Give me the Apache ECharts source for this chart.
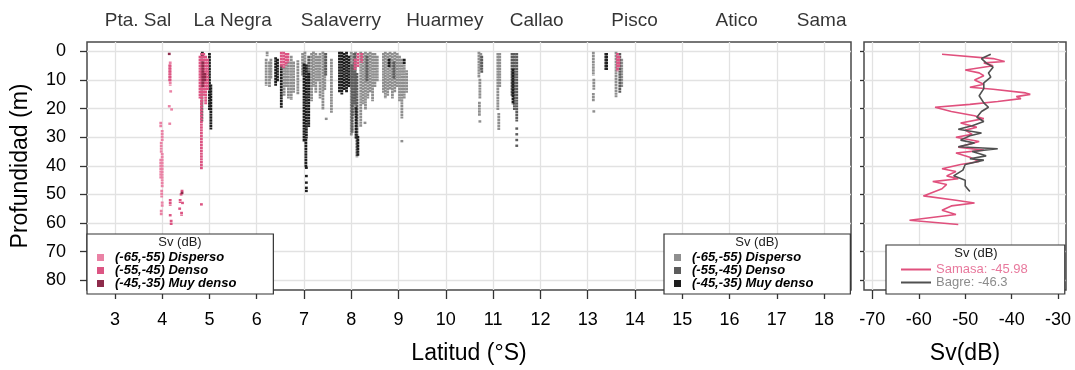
<!DOCTYPE html>
<html>
<head>
<meta charset="utf-8">
<script src="https://cdn.jsdelivr.net/npm/echarts@6/dist/echarts.min.js"></script>
<style>
html, body { margin: 0; background: #fff; }
#chart { width: 1075px; height: 370px; }
</style>
</head>
<body>
<div id="chart"></div>
<script>
// ticks
var latTicks = [3, 4, 5, 6, 7, 8, 9, 10, 11, 12, 13, 14, 15, 16, 17, 18];
var depthTicks = [0, 10, 20, 30, 40, 50, 60, 70, 80];
var svTicks = [-70, -60, -50, -40, -30];

// localidades arriba del panel
var sites = ['Pta. Sal', 'La Negra', 'Salaverry', 'Huarmey', 'Callao', 'Pisco', 'Atico', 'Sama'];
var siteLat = [3.49, 5.49, 7.78, 9.98, 11.92, 13.99, 16.15, 17.95];

// clases de Sv
var svClasses = ['(-65,-55) Disperso', '(-55,-45) Denso', '(-45,-35) Muy denso'];

// registros: [latitud, prof. superior, prof. inferior]
var samasaDisperso = [
  [3.97, 25, 26.2], [4.0, 27.9, 31], [3.98, 32, 35], [4.0, 36, 47], [3.97, 38, 44],
  [3.99, 48.8, 50.6], [4.0, 52.9, 54], [3.98, 55.8, 57],
  [4.17, 4, 11.5], [4.18, 14, 14], [4.15, 19.2, 19.2], [4.2, 20.3, 20.3], [4.16, 25.3, 25.3]
];
var samasaDenso = [
  [4.16, 5, 10], [4.17, 52, 53.5], [4.17, 57.3, 57.3], [4.19, 59.3, 60.4],
  [4.42, 48.8, 48.8], [4.4, 50, 50], [4.38, 52, 52.5], [4.43, 53, 53], [4.37, 55, 55], [4.41, 56.5, 57],
  [4.8, 2, 16], [4.84, 1, 17.5], [4.88, 1, 15], [4.92, 2, 18], [4.96, 3, 13],
  [4.83, 17.5, 40.7], [4.83, 53.5, 53.5],
  [6.52, 0.6, 5], [6.57, 0.6, 5.3], [6.62, 1, 4.5], [6.66, 1, 3.5],
  [8.08, 3, 6], [8.14, 1, 5], [8.22, 1, 3.5],
  [13.63, 1, 6.5], [13.66, 2, 5]
];
var samasaMuyDenso = [
  [4.15, 0.9, 0.9], [4.86, 4, 12], [4.9, 8, 10], [4.42, 49.5, 49.5]
];

var bagreDisperso = [
  [6.22, 0.5, 1.2], [6.2, 3, 11.5], [6.27, 4, 12], [6.3, 3, 9],
  [6.58, 6, 15], [6.62, 5, 12], [6.67, 4, 16], [6.73, 2, 16.5], [6.78, 4, 14], [6.87, 3.5, 14.5],
  [6.97, 1, 8], [7.02, 0.5, 6], [7.16, 1, 17], [7.2, 0.5, 12], [7.25, 1, 14], [7.3, 2, 10],
  [7.34, 1, 16], [7.4, 0.5, 20], [7.44, 1, 13], [7.58, 3, 21], [7.47, 23.6, 23.6],
  [8.0, 0.6, 29], [8.04, 1, 22], [8.09, 0.6, 20], [8.2, 0.6, 26], [8.25, 1, 18],
  [8.3, 0.6, 20], [8.35, 1, 16], [8.4, 0.6, 14], [8.45, 1, 17], [8.5, 1, 12], [8.55, 2, 10],
  [8.29, 25, 25],
  [8.68, 1, 14], [8.72, 0.6, 16], [8.77, 1, 15], [8.82, 0.6, 13], [8.87, 1, 16], [8.92, 0.6, 14],
  [8.97, 1, 12], [9.02, 2, 17], [9.07, 3, 23], [9.12, 5, 16], [9.17, 7, 14], [9.07, 31.4, 31.4],
  [10.7, 0.6, 8.7], [10.74, 1, 6], [10.72, 10, 16], [10.71, 18, 22], [10.72, 24.5, 24.5],
  [11.1, 1, 20], [11.14, 1, 12], [11.12, 22, 27],
  [13.12, 0.6, 8], [13.13, 10, 13], [13.12, 15, 17], [13.13, 21, 21],
  [13.6, 0.6, 15.6], [13.72, 3, 12]
];
var bagreDenso = [
  [4.84, 1, 24], [7.1, 2, 10], [7.46, 1, 8], [8.02, 5, 28], [8.12, 8, 36.5], [8.07, 1, 18],
  [8.33, 2, 10], [8.9, 4, 9], [10.76, 2, 7],
  [11.4, 1, 15], [11.45, 1, 20], [11.5, 1, 24], [11.5, 27, 27], [11.5, 29, 29], [11.5, 31, 31], [11.5, 33, 33],
  [13.38, 1, 6], [13.68, 1, 14]
];
var bagreMuyDenso = [
  [4.85, 0.6, 1.5], [5.0, 1, 20], [5.03, 12, 26.8],
  [6.4, 2.5, 11.7], [6.44, 3, 10], [6.52, 5.3, 19.2],
  [7.0, 4.7, 31], [7.05, 5, 30], [7.1, 8, 26], [7.04, 31, 40],
  [7.05, 40.7, 40.7], [7.05, 43.6, 43.6], [7.05, 45.9, 45.9], [7.05, 47.7, 47.7], [7.05, 48.8, 48.8],
  [7.75, 0.6, 14], [7.8, 0.6, 14.6], [7.85, 1, 13], [7.9, 0.6, 14], [7.95, 2, 12],
  [8.1, 20, 30], [8.14, 30, 36], [8.8, 3, 5], [9.12, 3, 4],
  [11.42, 6.5, 18], [13.4, 1, 6]
];

// perfiles de Sv medio por profundidad
var samasaSv = [-55, -44, -41.5, -46, -44, -50, -47, -46, -48, -46, -49, -44, -37, -36, -39, -38, -43, -49, -56.5,
  -53, -48, -46, -51, -47.5, -50, -48.5, -52, -47, -51.5, -46, -52, -49, -47, -51, -55, -52, -54, -51.5,
  -57, -54, -55, -59, -52, -48, -53, -55, -52, -62, -51.5];
var samasaDepth = [1, 2.5, 3.5, 4, 5, 6.5, 7.5, 8.5, 10, 11.5, 12.5, 13.2, 14.5, 15, 15.8, 16.5, 17.5, 18.5, 19.5,
  21, 22.5, 23.5, 25, 26.5, 27.5, 29, 30, 31.5, 33.5, 34.5, 35.5, 37, 38.5, 39.5, 41, 42, 43.5, 44.5,
  45.5, 46.5, 48, 50.5, 52, 53, 54, 55.5, 57, 59, 60.5];
var bagreSv = [-44.5, -46.5, -45.5, -44, -45, -44.5, -46, -46, -47, -46, -45, -46.5, -47.5, -46, -48.5, -51.5,
  -46.5, -49, -51, -48, -51.5, -43, -48.5, -45.5, -49, -46, -50, -50.5, -52.5, -50, -50, -49];
var bagreDepth = [1, 2.5, 4, 5.5, 7.5, 9, 11, 13, 15.5, 18, 19.5, 21, 23, 24.5, 26, 27.2,
  28.5, 29.5, 31, 32, 33.3, 34, 35, 36.5, 37.5, 38, 39.5, 41.5, 43.5, 45, 47, 49];
var lineNames = ['Samasa', 'Bagre'];
var meanSv = [-45.98, -46.3];

var FONT = '"Liberation Sans", Arial, sans-serif';

function zip(a, b) {
  var out = [];
  for (var i = 0; i < a.length; i++) out.push([a[i], b[i]]);
  return out;
}

// cada registro se dibuja como una columna punteada de ecos
function drawStreak(params, api) {
  var top = api.coord([api.value(0), api.value(1)]);
  var bot = api.coord([api.value(0), api.value(2)]);
  return {
    type: 'line',
    shape: { x1: top[0], y1: top[1] - 1.3, x2: bot[0], y2: bot[1] + 1.3 },
    style: { stroke: api.visual('color'), lineWidth: 2.8, lineDash: [2.4, 0.5] }
  };
}

function streaks(name, data, color) {
  return {
    name: name,
    type: 'custom',
    xAxisIndex: 0,
    yAxisIndex: 0,
    data: data,
    encode: { x: 0, y: [1, 2] },
    itemStyle: { color: color },
    renderItem: drawStreak,
    silent: true
  };
}

var axisNameStyle = { fontFamily: FONT, fontSize: 23, color: '#000' };
var tickLabel = { fontFamily: FONT, fontSize: 18, color: '#000' };
var gridLine = { show: true, lineStyle: { color: '#e2e2e2', width: 1.3 } };
var tickStyle = { color: '#333', width: 1.3 };

var legendText = { fontFamily: FONT, fontSize: 13, fontWeight: 'bold', fontStyle: 'italic', color: '#000', lineHeight: 12, padding: [0, 0, 0, 6] };

var option = {
  animation: false,
  backgroundColor: '#fff',
  grid: [
    { left: 87, top: 42, width: 764, height: 249, show: true, borderColor: '#4a4a4a', borderWidth: 1.5, backgroundColor: 'transparent' },
    { left: 864, top: 42, width: 202, height: 249, show: true, borderColor: '#4a4a4a', borderWidth: 1.5, backgroundColor: 'transparent' }
  ],
  xAxis: [
    {
      type: 'value', gridIndex: 0, min: 2.41, max: 18.57, splitNumber: 16, position: 'bottom',
      name: 'Latitud (°S)', nameLocation: 'middle', nameGap: 52, nameTextStyle: axisNameStyle,
      axisLine: { show: false, onZero: false },
      axisTick: { show: true, length: 9, lineStyle: tickStyle, customValues: latTicks },
      axisLabel: Object.assign({ margin: 21, customValues: latTicks }, tickLabel),
      splitLine: gridLine
    },
    {
      type: 'value', gridIndex: 1, min: -71.8, max: -28.3, splitNumber: 5, position: 'bottom',
      name: 'Sv(dB)', nameLocation: 'middle', nameGap: 52, nameTextStyle: axisNameStyle,
      axisLine: { show: false, onZero: false },
      axisTick: { show: true, length: 9, lineStyle: tickStyle, customValues: svTicks },
      axisLabel: Object.assign({ margin: 21, customValues: svTicks }, tickLabel),
      splitLine: gridLine
    }
  ],
  yAxis: [
    {
      type: 'value', gridIndex: 0, inverse: true, min: -3.3, max: 83.4, splitNumber: 9, position: 'left',
      name: 'Profundidad (m)', nameLocation: 'middle', nameGap: 55, nameRotate: 90, nameTextStyle: axisNameStyle,
      axisLine: { show: false, onZero: false },
      axisTick: { show: true, length: 7, lineStyle: tickStyle, customValues: depthTicks },
      axisLabel: Object.assign({ margin: 21, customValues: depthTicks }, tickLabel),
      splitLine: gridLine
    },
    {
      type: 'value', gridIndex: 1, inverse: true, min: -3.3, max: 83.4, splitNumber: 9, position: 'left',
      axisLine: { show: false, onZero: false },
      axisTick: { show: true, length: 4, lineStyle: tickStyle, customValues: depthTicks },
      axisLabel: { show: false },
      splitLine: gridLine
    }
  ],
  legend: [
    {
      left: 87, top: 234, orient: 'vertical', selectedMode: false,
      padding: [17, 37, 4, 10], itemGap: 0, itemWidth: 7, itemHeight: 7, icon: 'rect',
      backgroundColor: '#fff', borderColor: '#333', borderWidth: 1.2,
      data: svClasses.map(function (c) { return 'S|' + c; }),
      formatter: function (n) { return n.split('|')[1]; },
      textStyle: legendText
    },
    {
      left: 664, top: 234, orient: 'vertical', selectedMode: false,
      padding: [17, 37, 4, 10], itemGap: 0, itemWidth: 7, itemHeight: 7, icon: 'rect',
      backgroundColor: '#fff', borderColor: '#333', borderWidth: 1.2,
      data: svClasses.map(function (c) { return 'B|' + c; }),
      formatter: function (n) { return n.split('|')[1]; },
      textStyle: legendText
    },
    {
      left: 886, top: 245, orient: 'vertical', selectedMode: false,
      padding: [18, 37, 5, 15], itemGap: 0, itemWidth: 30, itemHeight: 2, icon: 'rect',
      backgroundColor: '#fff', borderColor: '#333', borderWidth: 1.2,
      data: [
        { name: 'Samasa', textStyle: { color: '#e8799d' } },
        { name: 'Bagre', textStyle: { color: '#8c8c8c' } }
      ],
      formatter: function (n) { return n + ': ' + meanSv[lineNames.indexOf(n)]; },
      textStyle: { fontFamily: FONT, fontSize: 13, lineHeight: 11 }
    }
  ],
  graphic: [
    { type: 'text', x: 180, y: 242, z: 100, style: { text: 'Sv (dB)', fontFamily: FONT, fontSize: 13, fill: '#222', align: 'center', verticalAlign: 'middle' } },
    { type: 'text', x: 757, y: 242, z: 100, style: { text: 'Sv (dB)', fontFamily: FONT, fontSize: 13, fill: '#222', align: 'center', verticalAlign: 'middle' } },
    { type: 'text', x: 976, y: 253, z: 100, style: { text: 'Sv (dB)', fontFamily: FONT, fontSize: 13, fill: '#222', align: 'center', verticalAlign: 'middle' } }
  ],
  series: [
    streaks('B|' + svClasses[0], bagreDisperso, '#8f8f8f'),
    streaks('B|' + svClasses[1], bagreDenso, '#5c5c5c'),
    streaks('B|' + svClasses[2], bagreMuyDenso, '#1e1e1e'),
    streaks('S|' + svClasses[0], samasaDisperso, '#ea82a5'),
    streaks('S|' + svClasses[1], samasaDenso, '#dc5583'),
    streaks('S|' + svClasses[2], samasaMuyDenso, '#8e2b4b'),
    {
      type: 'scatter', xAxisIndex: 0, yAxisIndex: 0, clip: false, silent: true,
      symbolSize: 0,
      data: siteLat.map(function (v, i) { return { value: [v, -10.6], name: sites[i] }; }),
      label: { show: true, position: 'inside', formatter: '{b}', fontFamily: FONT, fontSize: 19, color: '#000' }
    },
    {
      name: 'Samasa', type: 'line', xAxisIndex: 1, yAxisIndex: 1, showSymbol: false, silent: true,
      data: zip(samasaSv, samasaDepth),
      itemStyle: { color: '#e0507d' }, lineStyle: { color: '#e0507d', width: 1.6 }
    },
    {
      name: 'Bagre', type: 'line', xAxisIndex: 1, yAxisIndex: 1, showSymbol: false, silent: true,
      data: zip(bagreSv, bagreDepth),
      itemStyle: { color: '#505050' }, lineStyle: { color: '#505050', width: 1.6 }
    }
  ]
};

var chart = echarts.init(document.getElementById('chart'));
chart.setOption(option);
</script>
</body>
</html>
